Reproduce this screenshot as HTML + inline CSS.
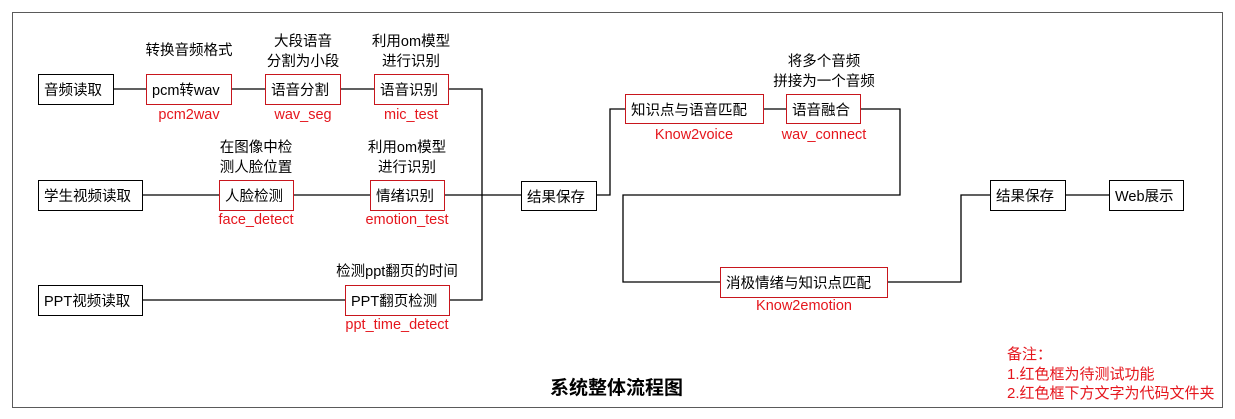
<!DOCTYPE html>
<html><head><meta charset="utf-8"><style>
body{margin:0;width:1235px;height:419px;background:#fff;position:relative;overflow:hidden;font-family:"Liberation Sans","Noto Sans CJK SC",sans-serif;}
.frame{position:absolute;left:12px;top:12px;width:1209px;height:394px;border:1.5px solid #5a5a5a;}
.b{position:absolute;box-sizing:border-box;border:1.3px solid #000;background:#fff;font-size:14.5px;display:flex;align-items:center;padding-left:5px;color:#000;white-space:nowrap}
.r{border-color:#c8161d}
.t{position:absolute;font-size:14.5px;text-align:center;line-height:20px;white-space:nowrap;transform:translateX(-50%)}
.red{color:#e5161d}
</style></head><body>
<div class="frame"></div>
<svg width="1235" height="419" style="position:absolute;left:0;top:0">
<g stroke="#000" stroke-width="1.3" fill="none">
<path d="M113 89H146M231 89H265M340 89H374M448 89H482V300H449"/>
<path d="M142 195H219M293 195H370M444 195H521"/>
<path d="M142 300H345"/>
<path d="M596 195H610V109H625M763 109H786M860 109H900V195H623V282H720M887 282H961V195H990M1065 195H1109"/>
</g></svg>
<div class="b" style="left:38px;top:74px;width:76px;height:31px">音频读取</div>
<div class="b r" style="left:146px;top:74px;width:86px;height:31px">pcm转wav</div>
<div class="b r" style="left:265px;top:74px;width:76px;height:31px">语音分割</div>
<div class="b r" style="left:374px;top:74px;width:75px;height:31px">语音识别</div>
<div class="b" style="left:38px;top:180px;width:105px;height:31px">学生视频读取</div>
<div class="b r" style="left:219px;top:180px;width:75px;height:31px">人脸检测</div>
<div class="b r" style="left:370px;top:180px;width:75px;height:31px">情绪识别</div>
<div class="b" style="left:38px;top:285px;width:105px;height:31px">PPT视频读取</div>
<div class="b r" style="left:345px;top:285px;width:105px;height:31px">PPT翻页检测</div>
<div class="b" style="left:521px;top:181px;width:76px;height:30px">结果保存</div>
<div class="b r" style="left:625px;top:94px;width:139px;height:30px">知识点与语音匹配</div>
<div class="b r" style="left:786px;top:94px;width:75px;height:30px">语音融合</div>
<div class="b r" style="left:720px;top:267px;width:168px;height:31px">消极情绪与知识点匹配</div>
<div class="b" style="left:990px;top:180px;width:76px;height:31px">结果保存</div>
<div class="b" style="left:1109px;top:180px;width:75px;height:31px">Web展示</div>

<div class="t" style="left:189px;top:41px">转换音频格式</div>
<div class="t" style="left:303px;top:32px">大段语音<br>分割为小段</div>
<div class="t" style="left:411px;top:32px">利用om模型<br>进行识别</div>
<div class="t" style="left:256px;top:138px">在图像中检<br>测人脸位置</div>
<div class="t" style="left:407px;top:138px">利用om模型<br>进行识别</div>
<div class="t" style="left:397px;top:262px">检测ppt翻页的时间</div>
<div class="t" style="left:824px;top:52px">将多个音频<br>拼接为一个音频</div>

<div class="t red" style="left:189px;top:105px">pcm2wav</div>
<div class="t red" style="left:303px;top:105px">wav_seg</div>
<div class="t red" style="left:411px;top:105px">mic_test</div>
<div class="t red" style="left:256px;top:210px">face_detect</div>
<div class="t red" style="left:407px;top:210px">emotion_test</div>
<div class="t red" style="left:397px;top:315px">ppt_time_detect</div>
<div class="t red" style="left:694px;top:125px">Know2voice</div>
<div class="t red" style="left:824px;top:125px">wav_connect</div>
<div class="t red" style="left:804px;top:296px">Know2emotion</div>

<div style="position:absolute;left:550px;top:373px;font-size:19px;font-weight:bold">系统整体流程图</div>
<div class="red" style="position:absolute;left:1007px;top:345px;font-size:15px;line-height:19.5px">备注：<br>1.红色框为待测试功能<br>2.红色框下方文字为代码文件夹</div>
</body></html>
